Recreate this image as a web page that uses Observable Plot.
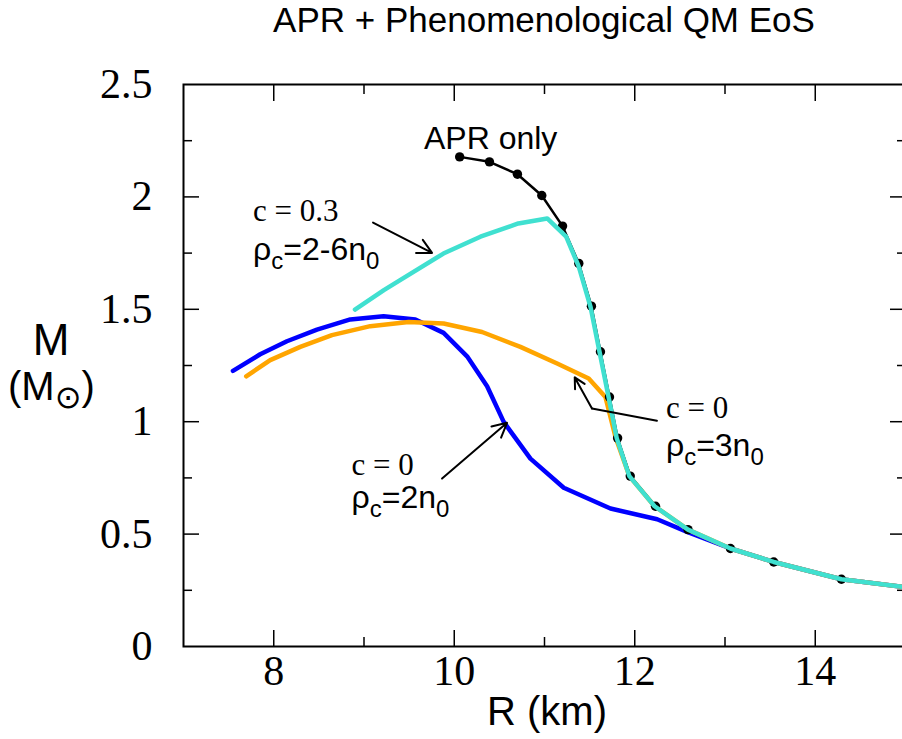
<!DOCTYPE html>
<html><head><meta charset="utf-8">
<script src="https://cdn.jsdelivr.net/npm/d3@7"></script>
<script src="https://cdn.jsdelivr.net/npm/@observablehq/plot@0.6"></script>
<style>
html,body{margin:0;padding:0;background:#fff;overflow:hidden;width:902px;height:739px;}
#title{position:relative;height:60px;width:902px;font-family:"Liberation Sans",Arial,sans-serif;font-size:35px;color:#000;}
#title span{position:absolute;left:544px;top:0;transform:translateX(-50%);white-space:nowrap;line-height:39px;}
#chart{width:902px;height:679px;overflow:hidden;}
#chart svg{max-width:none !important;display:block;}
</style></head>
<body>
<div id="title"><span>APR + Phenomenological QM EoS</span></div>
<div id="chart"></div>
<script>
// ---- data (R in km, M in solar masses) ----
const aprR = [10.06, 10.39, 10.70, 10.97, 11.20, 11.38, 11.52, 11.62, 11.72, 11.81, 11.95, 12.23, 12.59, 13.06, 13.54, 14.29, 15.0];
const aprM = [2.178, 2.156, 2.101, 2.006, 1.870, 1.704, 1.514, 1.311, 1.110, 0.927, 0.758, 0.624, 0.520, 0.436, 0.376, 0.299, 0.264];

const c03R = [8.90, 9.22, 9.40, 9.88, 10.29, 10.71, 11.03, 11.24, 11.38, 11.51, 11.61, 11.71, 11.80, 11.94, 12.22, 12.59, 13.06, 13.54, 14.29, 15.0];
const c03M = [1.499, 1.585, 1.630, 1.748, 1.823, 1.882, 1.904, 1.823, 1.690, 1.511, 1.310, 1.110, 0.927, 0.758, 0.624, 0.520, 0.436, 0.376, 0.299, 0.264];

const c0n2R = [7.548, 7.850, 8.146, 8.479, 8.848, 9.217, 9.569, 9.882, 10.142, 10.364, 10.548, 10.844, 11.213, 11.731, 12.248, 12.581, 13.06, 13.54, 14.29, 15.0];
const c0n2M = [1.226, 1.300, 1.358, 1.410, 1.455, 1.469, 1.455, 1.395, 1.291, 1.158, 0.999, 0.836, 0.706, 0.614, 0.566, 0.510, 0.436, 0.376, 0.299, 0.264];

const c0n3R = [7.695, 7.961, 8.294, 8.645, 9.070, 9.494, 9.882, 10.308, 10.733, 11.140, 11.490, 11.675, 11.79, 11.94, 12.22, 12.59, 13.06, 13.54, 14.29, 15.0];
const c0n3M = [1.202, 1.274, 1.333, 1.385, 1.425, 1.444, 1.437, 1.399, 1.333, 1.259, 1.192, 1.110, 0.927, 0.758, 0.624, 0.520, 0.436, 0.376, 0.299, 0.264];

// ticks
const xMajor = [8, 10, 12, 14];
const xMinor = [9, 11, 13];
const yMajor = [0.5, 1, 1.5, 2];
const yMinor = [0.25, 0.75, 1.25, 1.75, 2.25];
const xTickLabels = [8, 10, 12, 14];
const yTickLabels = [0, 0.5, 1, 1.5, 2, 2.5];

// annotation arrows (data coordinates)
const arrowFromR = [9.100, 9.865];
const arrowFromM = [1.886, 0.747];
const arrowToR = [9.754, 10.585];
const arrowToM = [1.751, 0.995];
const bentR = [12.246, 11.526, 11.335];
const bentM = [1.004, 1.059, 1.197];

// annotation texts (data coordinates of text start / baseline)
const labelAPR = {text: "APR only", R: 10.409, M: 2.211};
const notes = [
  {c: "c = 0.3", rho: "=2-6n", R: 7.776, Mc: 1.889, Mr: 1.718},
  {c: "c = 0", rho: "=2n", R: 8.867, Mc: 0.762, Mr: 0.614},
  {c: "c = 0", rho: "=3n", R: 12.351, Mc: 1.014, Mr: 0.843}
];

const rows = (R, M) => R.map((r, i) => ({R: r, M: M[i]}));
const apr = rows(aprR, aprM);
const c03 = rows(c03R, c03M);
const c0n2 = rows(c0n2R, c0n2M);
const c0n3 = rows(c0n3R, c0n3M);
const arrows = arrowFromR.map((r, i) => ({x1: r, y1: arrowFromM[i], x2: arrowToR[i], y2: arrowToM[i]}));
const bent = rows(bentR, bentM);

const serif = "Liberation Serif, Times New Roman, serif";
const sans = "Liberation Sans, Arial, sans-serif";

const chart = Plot.plot({
  width: 905, height: 679,
  marginLeft: 183, marginRight: 0, marginTop: 24, marginBottom: 93,
  x: {domain: [7, 15]},
  y: {domain: [0, 2.5]},
  marks: [
    Plot.line(c0n2, {x: "R", y: "M", stroke: "#0000ff", strokeWidth: 4.5}),
    Plot.line(c0n3, {x: "R", y: "M", stroke: "#ffa500", strokeWidth: 4.5}),
    Plot.line(apr, {x: "R", y: "M", stroke: "black", strokeWidth: 2.5}),
    Plot.dot(apr.filter(d => d.R < 14.9), {x: "R", y: "M", r: 4.7, fill: "black", stroke: "none"}),
    Plot.line(c03, {x: "R", y: "M", stroke: "#40e0d0", strokeWidth: 4.5}),
    Plot.arrow(arrows, {x1: "x1", y1: "y1", x2: "x2", y2: "y2", stroke: "black", strokeWidth: 2, headLength: 12, headAngle: 55, inset: 0}),
    Plot.line(bent.slice(0, 2), {x: "R", y: "M", stroke: "black", strokeWidth: 2}),
    Plot.arrow([{x1: bentR[1], y1: bentM[1], x2: bentR[2], y2: bentM[2]}], {x1: "x1", y1: "y1", x2: "x2", y2: "y2", stroke: "black", strokeWidth: 2, headLength: 12, headAngle: 55, inset: 0}),
    Plot.frame({stroke: "black", strokeWidth: 2}),
    // inward ticks
    Plot.axisX({anchor: "bottom", ticks: xMajor, tickSize: -16, fill: "none", stroke: "black", strokeWidth: 1.5, label: null}),
    Plot.axisX({anchor: "bottom", ticks: xMinor, tickSize: -9, fill: "none", stroke: "black", strokeWidth: 1.5, label: null}),
    Plot.axisX({anchor: "top", ticks: xMajor, tickSize: -16, fill: "none", stroke: "black", strokeWidth: 1.5, label: null}),
    Plot.axisX({anchor: "top", ticks: xMinor, tickSize: -9, fill: "none", stroke: "black", strokeWidth: 1.5, label: null}),
    Plot.axisY({anchor: "left", ticks: yMajor, tickSize: -16, fill: "none", stroke: "black", strokeWidth: 1.5, label: null}),
    Plot.axisY({anchor: "left", ticks: yMinor, tickSize: -9, fill: "none", stroke: "black", strokeWidth: 1.5, label: null}),
    Plot.axisY({anchor: "right", ticks: yMajor, tickSize: -16, fill: "none", stroke: "black", strokeWidth: 1.5, label: null}),
    Plot.axisY({anchor: "right", ticks: yMinor, tickSize: -9, fill: "none", stroke: "black", strokeWidth: 1.5, label: null}),
    // tick labels
    Plot.axisX({anchor: "bottom", ticks: xTickLabels, tickSize: 0, tickPadding: 9, tickFormat: d => String(d), fill: "black", fontSize: 42, fontFamily: serif, label: null}),
    Plot.axisY({anchor: "left", ticks: yTickLabels, tickSize: 0, tickPadding: 31, tickFormat: d => String(d), fill: "black", fontSize: 42, fontFamily: serif, label: null})
  ]
});
chart.style.maxWidth = "none";
document.getElementById("chart").appendChild(chart);

const sx = chart.scale("x").apply, sy = chart.scale("y").apply;
const svg = d3.select(chart);
const g = svg.append("g").attr("fill", "black");

function rich(x, y, parts, family, size, anchor) {
  const t = g.append("text").attr("x", x).attr("y", y)
    .attr("font-family", family).attr("font-size", size)
    .attr("text-anchor", anchor || "start");
  let shift = 0;
  for (const p of parts) {
    const s = t.append("tspan").text(p.t);
    const target = p.dy || 0;
    if (target - shift) s.attr("dy", target - shift);
    shift = target;
    if (p.size) s.attr("font-size", p.size);
    if (p.family) s.attr("font-family", p.family);
    if (p.dx) s.attr("dx", p.dx);
  }
  return t;
}

rich(sx(labelAPR.R), sy(labelAPR.M), [{t: labelAPR.text}], sans, 32, "middle");
for (const n of notes) {
  rich(sx(n.R), sy(n.Mc), [{t: n.c}], serif, 31);
  rich(sx(n.R), sy(n.Mr), [
    {t: "ρ"}, {t: "c", size: 24, dy: 9}, {t: n.rho}, {t: "0", size: 24, dy: 9}
  ], sans, 32);
}

// axis titles
rich(547, 665, [{t: "R (km)"}], sans, 40, "middle");
rich(51, 295, [{t: "M"}], sans, 44, "middle");
rich(8, 340, [{t: "(M"}, {t: "⊙", size: 32, dy: 8, family: "DejaVu Sans"}, {t: ")"}], sans, 40);
</script>
</body></html>
